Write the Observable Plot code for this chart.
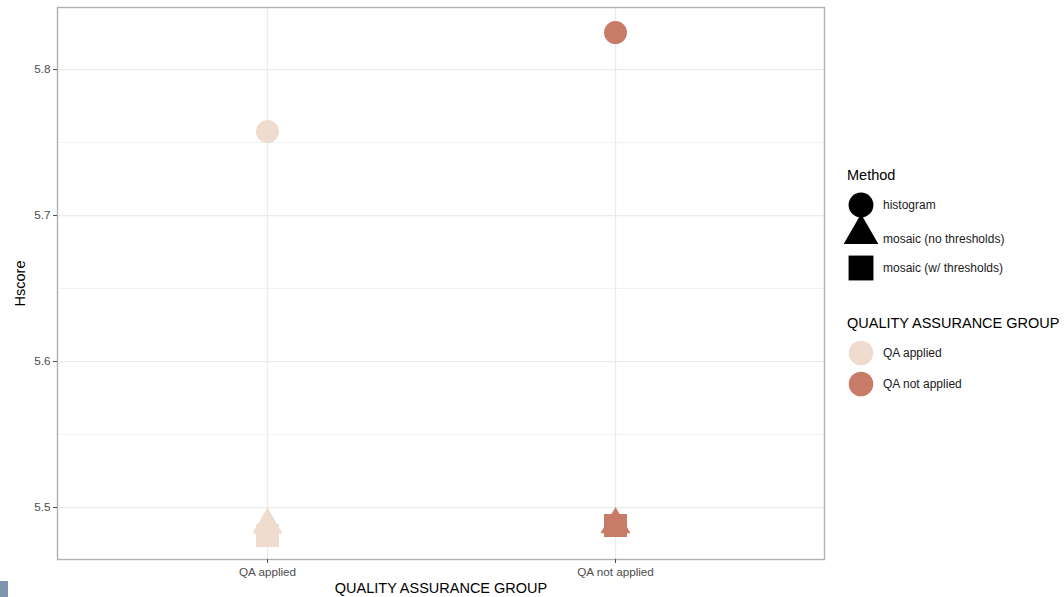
<!DOCTYPE html>
<html>
<head>
<meta charset="utf-8">
<script src="https://cdn.jsdelivr.net/npm/d3@7"></script>
<script src="https://cdn.jsdelivr.net/npm/@observablehq/plot@0.6"></script>
<style>
  html, body { margin: 0; padding: 0; background: #fff; }
  #wrap { position: relative; width: 1064px; height: 597px; overflow: hidden;
          font-family: "Liberation Sans", Arial, Helvetica, sans-serif; }
  #legend { position: absolute; left: 0; top: 0; }
  #corner { position: absolute; left: 0; top: 581px; width: 8px; height: 16px; background: #7e95ae; }
</style>
</head>
<body>
<div id="wrap">
  <div id="chart"></div>
  <svg id="legend" width="1064" height="597"></svg>
  <div id="corner"></div>
</div>
<script>
// Quality assurance groups on the x axis
const groups = ["QA applied", "QA not applied"];
// Methods, drawn as different symbols
const methods = ["histogram", "mosaic (no thresholds)", "mosaic (w/ thresholds)"];
// Hscore for each method, per group
const hscoreQAApplied = [5.7575, 5.4882, 5.4808];
const hscoreQANotApplied = [5.8253, 5.4884, 5.4877];
// Tick values for the y axis
const yTicks = [5.5, 5.6, 5.7, 5.8];
const yMinorTicks = [5.55, 5.65, 5.75];

const groupColors = ["#f0dccf", "#c77b69"];
const methodSymbols = ["circle", "triangle", "square"];
// symbol radius for each method so circles, triangles and squares read alike
const methodRadius = {"circle": 11.5, "triangle": 11.2, "square": 13};

const rows = [];
groups.forEach((g, gi) => {
  const vals = gi === 0 ? hscoreQAApplied : hscoreQANotApplied;
  methods.forEach((m, mi) => rows.push({group: g, method: m, hscore: vals[mi]}));
});

const font = '"Liberation Sans", Arial, Helvetica, sans-serif';
const titleSize = 14.5;

const marks = [
  Plot.ruleY(yMinorTicks, {stroke: "#f2f2f2", strokeWidth: 1}),
  Plot.ruleY(yTicks, {stroke: "#ebebeb", strokeWidth: 1.3}),
  Plot.ruleX(groups, {stroke: "#ebebeb", strokeWidth: 1.3}),
];
methods.forEach((m, mi) => {
  const sym = methodSymbols[mi];
  marks.push(Plot.dot(rows.filter(d => d.method === m), {
    x: "group", y: "hscore", fill: "group", symbol: () => sym,
    r: methodRadius[sym], stroke: "none"
  }));
});
marks.push(
  Plot.frame({stroke: "#b0b0b0", strokeWidth: 1.4}),
  Plot.axisY(yTicks, {tickSize: 4, tickPadding: 3, fontSize: 11.7, color: "#4d4d4d", stroke: "#4d4d4d",
    label: null, tickFormat: d3.format(".1f")}),
  Plot.axisX({tickSize: 4, tickPadding: 4, fontSize: 11.7, color: "#4d4d4d", stroke: "#4d4d4d",
    label: null}),
  // axis titles
  Plot.text(["QUALITY ASSURANCE GROUP"], {frameAnchor: "bottom", dy: 33, fontSize: titleSize, fill: "#000"}),
  Plot.text(["Hscore"], {frameAnchor: "left", textAnchor: "middle", rotate: -90, dx: -37,
    fontSize: titleSize, fill: "#000"})
);

const chart = Plot.plot({
  width: 1064,
  height: 597,
  marginLeft: 57,
  marginRight: 240,
  marginTop: 7,
  marginBottom: 38,
  style: {fontFamily: font, fontSize: "11px", color: "#000", background: "#fff", overflow: "visible"},
  x: {type: "point", domain: groups, padding: 0.6},
  y: {domain: [5.4644, 5.8425]},
  symbol: {domain: methodSymbols, range: methodSymbols},
  color: {domain: groups, range: groupColors},
  marks
});
document.getElementById("chart").appendChild(chart);

// Legends
const leg = d3.select("#legend").style("font-family", font);
const legX = 847, keyX = 861, labX = 883;

leg.append("text").attr("x", legX).attr("y", 175).attr("dy", "0.35em")
  .attr("font-size", titleSize).text("Method");
const methodRows = [205, 234, 268];
const legendSymbol = {circle: d3.symbolCircle, triangle: d3.symbolTriangle, square: d3.symbolSquare};
methods.forEach((m, i) => {
  const sym = methodSymbols[i];
  const r = methodRadius[sym] * (sym === "triangle" ? 1.15 : 1.08);
  leg.append("path")
    .attr("transform", `translate(${keyX},${methodRows[i]})`)
    .attr("d", d3.symbol(legendSymbol[sym], Math.PI * r * r)())
    .attr("fill", "#000");
  leg.append("text").attr("x", labX).attr("y", i === 1 ? 239 : methodRows[i]).attr("dy", "0.35em")
    .attr("font-size", 12).attr("fill", "#1a1a1a").text(m);
});

leg.append("text").attr("x", legX).attr("y", 323).attr("dy", "0.35em")
  .attr("font-size", titleSize).text("QUALITY ASSURANCE GROUP");
const groupRows = [353, 384];
groups.forEach((g, i) => {
  leg.append("circle").attr("cx", keyX).attr("cy", groupRows[i]).attr("r", 12.3)
    .attr("fill", groupColors[i]);
  leg.append("text").attr("x", labX).attr("y", groupRows[i]).attr("dy", "0.35em")
    .attr("font-size", 12).attr("fill", "#1a1a1a").text(g);
});
</script>
</body>
</html>
